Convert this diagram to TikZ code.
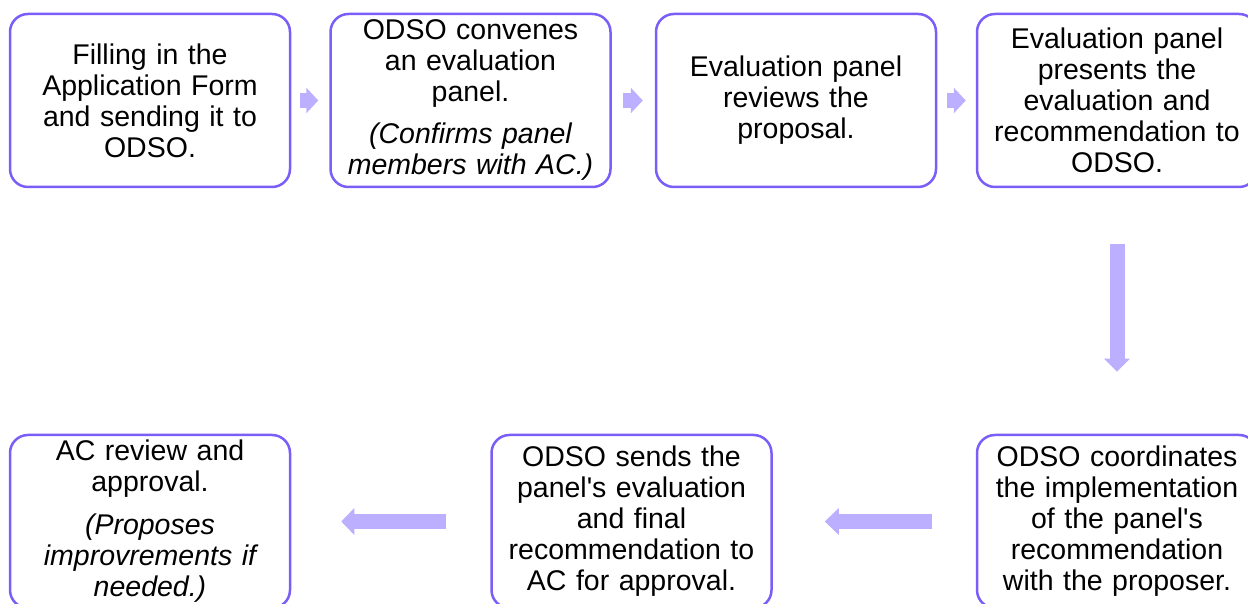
\documentclass[tikz,border=0pt]{standalone}
\usepackage{fontspec}
\setmainfont{Liberation Sans}
\usetikzlibrary{arrows.meta}
\definecolor{stepline}{RGB}{122,94,247}
\definecolor{arrowfill}{RGB}{188,175,255}

\begin{document}
\begin{tikzpicture}[x=1pt,y=1pt,
        stepbox/.style={draw=stepline,line width=2.5pt,rounded corners=18pt,
            minimum width=280pt,minimum height=173pt,text width=262pt,align=center,
            inner sep=0pt,font=\fontsize{28.5}{31}\selectfont},
        flow/.style={draw=arrowfill,line width=15pt,
            -{Triangle[length=12pt,width=25pt]}}]
        \useasboundingbox (0,0) rectangle (1248,604);
        % top row
        \node[stepbox] (form) at (150,503.5) {Filling in the\\Application Form\\and sending it to\\ODSO.};
        \node[stepbox] (convene) at (470.5,503.5) {ODSO convenes\\an evaluation\\panel.\\[11pt]\itshape(Confirms panel\\\itshape members with AC.)};
        \node[stepbox] (review) at (796,503.5) {Evaluation panel\\reviews the\\proposal.};
        \node[stepbox] (present) at (1117,503.5) {Evaluation panel\\presents the\\evaluation and\\recommendation to\\ODSO.};
        % bottom row
        \node[stepbox] (approve) at (150,82.5) {AC review and\\approval.\\[12pt]\itshape(Proposes\\\itshape improvrements if\\\itshape needed.)};
        \node[stepbox] (send) at (631.5,82.5) {ODSO sends the\\panel\textquotesingle s evaluation\\and final\\recommendation to\\AC for approval.};
        \node[stepbox] (coord) at (1117,82.5) {ODSO coordinates\\the implementation\\of the panel\textquotesingle s\\recommendation\\with the proposer.};
        % arrows
        \draw[flow] ([xshift=9pt]form.east) -- ([xshift=-11pt]convene.west);
        \draw[flow] ([xshift=11pt]convene.east) -- ([xshift=-12pt]review.west);
        \draw[flow] ([xshift=10pt]review.east) -- ([xshift=-10pt]present.west);
        \draw[flow,-{Triangle[length=13pt,width=25pt]}] ([yshift=-56pt]present.south) -- ([yshift=62pt]coord.north);
        \draw[flow,-{Triangle[length=14pt,width=26pt]}] ([xshift=-44pt]coord.west) -- ([xshift=52pt]send.east);
        \draw[flow,-{Triangle[length=13pt,width=26pt]}] ([xshift=-44pt]send.west) -- ([xshift=50pt]approve.east);
    \end{tikzpicture}
\end{document}
